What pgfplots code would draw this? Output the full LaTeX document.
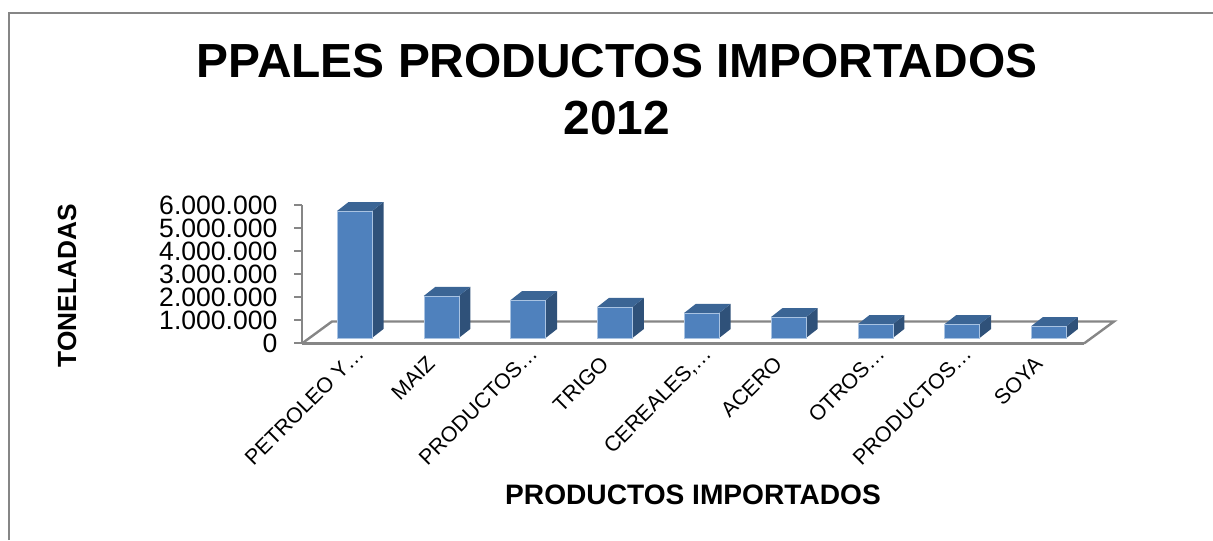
\documentclass[border=0pt]{standalone}
\usepackage{fontspec}
\setmainfont{Liberation Sans}
\usepackage{pgfplots}
\pgfplotsset{compat=1.18}

% one reference pixel = 0.75pt
\definecolor{linegray}{HTML}{868686}
\definecolor{barfront}{HTML}{4F81BD}
\definecolor{barside}{HTML}{2F5179}
\definecolor{bartop}{HTML}{3B6595}
\definecolor{baredge}{HTML}{A9C3E2}

% short category names sit further down their slant than the cut ones
\newcommand{\shortlab}[1]{\raisebox{3pt}{#1}\hspace{13.8pt}\null}

% #1 category position, #2 tonnes
\newcommand{\threedbar}[2]{%
  \pgfmathsetmacro{\xl}{#1-0.2016}%
  \pgfmathsetmacro{\xr}{#1+0.2016}%
  \pgfmathsetmacro{\xlb}{#1-0.0691}%
  \pgfmathsetmacro{\xrb}{#1+0.3341}%
  \edef\ytop{\the\numexpr#2\relax}%
  \edef\ytopb{\the\numexpr#2+391304\relax}%
  \addplot[fill=barside,draw=none,yshift=4.125pt] coordinates {(\xr,0)(\xrb,391304)(\xrb,\ytopb)(\xr,\ytop)} --cycle;
  \addplot[fill=bartop,draw=none,yshift=4.125pt] coordinates {(\xl,\ytop)(\xlb,\ytopb)(\xrb,\ytopb)(\xr,\ytop)} --cycle;
  \addplot[ybar,bar width=26.25pt,bar shift=0pt,fill=barfront,draw=baredge,line width=0.3pt,yshift=4.125pt] coordinates {(#1,#2)};
}

\begin{document}
\begin{tikzpicture}
  \path[use as bounding box] (0,0) rectangle (909.75pt,405pt);
  % chart area frame, cut by the image edges
  \draw[linegray,line width=1.5pt] (6.4pt,0) -- (6.4pt,395.6pt) -- (909.75pt,395.6pt);

  \begin{axis}[
    at={(226.5pt,147.4pt)},
    anchor=south west,
    scale only axis,
    width=586.5pt,
    height=103.5pt,
    xmin=-0.605, xmax=8.404,
    ymin=0, ymax=6000000,
    clip=false,
    axis y line*=left,
    axis x line*=bottom,
    axis line style={draw=linegray,line width=1.8pt},
    xtick={0,1,2,3,4,5,6,7,8},
    xticklabels={PETROLEO Y…,\shortlab{MAIZ},PRODUCTOS…,\shortlab{TRIGO},{CEREALES,…},\shortlab{ACERO},OTROS…,PRODUCTOS…,\shortlab{SOYA}},
    ytick={0,1000000,2000000,3000000,4000000,5000000,6000000},
    scaled y ticks=false,
    tick align=outside,
    major tick length=6pt,
    xtick style={draw=none},
    ytick style={draw=linegray,line width=1.5pt},
    y tick label style={
      font=\fontsize{19.9}{20}\selectfont,
      xshift=-9pt,
      /pgf/number format/fixed,
      /pgf/number format/1000 sep={.},
      /pgf/number format/assume math mode=true,
    },
    x tick label style={
      font=\fontsize{16}{18}\selectfont,
      xshift=10.5pt,yshift=-0.25pt,
      rotate=45,anchor=base east,
    },
    title={PPALES PRODUCTOS IMPORTADOS\\2012},
    title style={
      at={(axis description cs:0.4028,1.779)},
      anchor=center,align=center,
      font=\fontsize{35.9}{42.75}\selectfont\bfseries,
    },
    xlabel={PRODUCTOS IMPORTADOS},
    xlabel style={
      at={(axis description cs:0.5,-1.098)},
      anchor=center,
      font=\fontsize{21.1}{24}\selectfont\bfseries,
    },
    ylabel={TONELADAS},
    ylabel style={
      at={(axis description cs:-0.3005,0.417)},
      anchor=center,
      font=\fontsize{19.7}{24}\selectfont\bfseries,
    },
  ]
    % floor of the 3-D plot
    \addplot[draw=linegray,line width=1.8pt] coordinates {(-0.605,0)(-0.2595,956522)(8.7496,956522)(8.404,0)};

    \threedbar{0}{5520000}
    \threedbar{1}{1830000}
    \threedbar{2}{1650000}
    \threedbar{3}{1350000}
    \threedbar{4}{1090000}
    \threedbar{5}{910000}
    \threedbar{6}{600000}
    \threedbar{7}{600000}
    \threedbar{8}{520000}
  \end{axis}
\end{tikzpicture}
\end{document}
